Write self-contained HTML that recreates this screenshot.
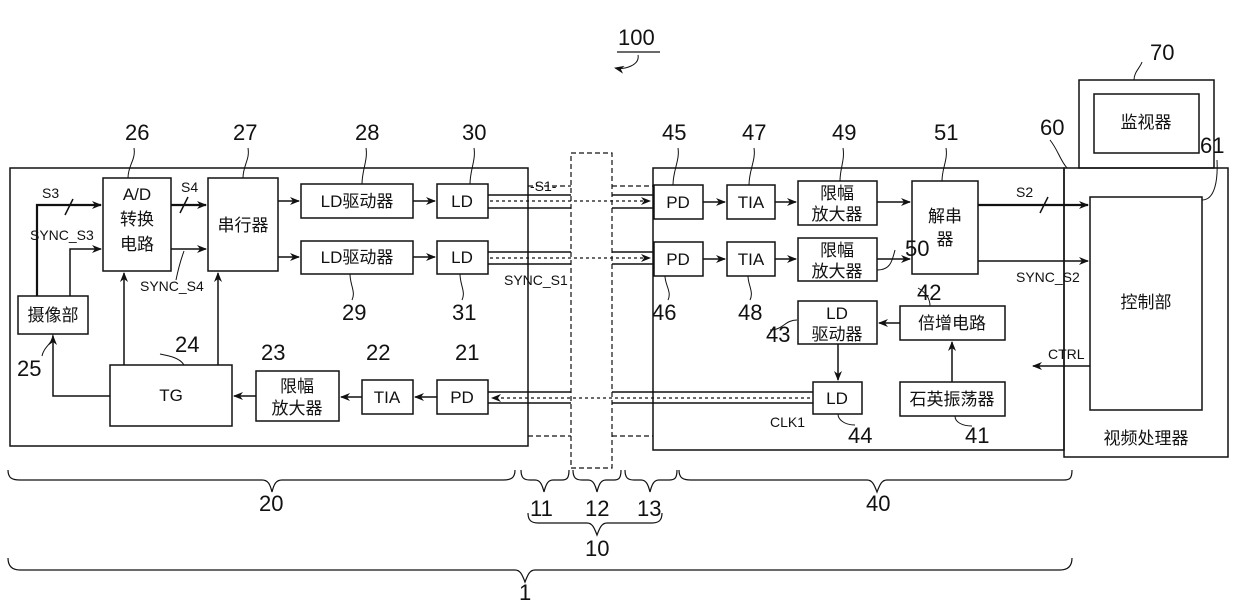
<!DOCTYPE html>
<html><head><meta charset="utf-8"><style>
body{margin:0;background:#fff}
text{font-family:"Liberation Sans","Noto Sans CJK SC",sans-serif;fill:#111}
.n{font-size:22px}
.c{font-size:17px}
.s{font-size:14px}
</style></head><body>
<svg width="1240" height="608" viewBox="0 0 1240 608" xmlns="http://www.w3.org/2000/svg">
<defs><marker id="a" markerWidth="10" markerHeight="8" refX="9" refY="4" orient="auto" markerUnits="userSpaceOnUse"><path d="M0,0 L10,4 L0,8 L3,4z" fill="#111"/></marker></defs>
<g fill="none" stroke="#111" stroke-width="1.5">
<rect x="10" y="168" width="518" height="278"/>
<rect x="653" y="168" width="411" height="282"/>
<rect x="1064" y="168" width="164" height="289"/>
<rect x="1090" y="197" width="112" height="213"/>
<rect x="1079" y="80" width="135" height="88"/>
<rect x="1094" y="94" width="105" height="59"/>
<g stroke-dasharray="5,3" stroke-width="1.2">
<rect x="571" y="153" width="41" height="315"/>
<line x1="528" y1="186" x2="571" y2="186"/><line x1="612" y1="186" x2="653" y2="186"/>
<line x1="528" y1="436" x2="571" y2="436"/><line x1="612" y1="436" x2="653" y2="436"/>
</g>
<rect x="103" y="178" width="68" height="93"/>
<rect x="208" y="178" width="70" height="93"/>
<rect x="301" y="184" width="112" height="34"/>
<rect x="437" y="184" width="51" height="34"/>
<rect x="301" y="241" width="112" height="33"/>
<rect x="437" y="241" width="51" height="33"/>
<rect x="18" y="296" width="70" height="38"/>
<rect x="110" y="365" width="122" height="61"/>
<rect x="256" y="371" width="83" height="50"/>
<rect x="362" y="380" width="51" height="34"/>
<rect x="437" y="380" width="51" height="34"/>
<rect x="654" y="185" width="49" height="34"/>
<rect x="727" y="185" width="48" height="34"/>
<rect x="798" y="181" width="79" height="44"/>
<rect x="912" y="181" width="66" height="93"/>
<rect x="654" y="242" width="49" height="34"/>
<rect x="727" y="242" width="48" height="34"/>
<rect x="798" y="238" width="79" height="43"/>
<rect x="798" y="301" width="79" height="43"/>
<rect x="900" y="306" width="105" height="34"/>
<rect x="813" y="382" width="49" height="32"/>
<rect x="900" y="382" width="105" height="34"/>
<path d="M488 195H571M488 208H571M612 195H654M612 208H654"/>
<path d="M488 252H571M488 264H571M612 252H654M612 264H654"/>
<path d="M488 392H571M488 403H571M612 392H813M612 403H813"/>
<g stroke-dasharray="3,3" stroke-width="1.2">
<path d="M490 201H650" marker-end="url(#a)"/>
<path d="M490 258H650" marker-end="url(#a)"/>
<path d="M810 398H492" marker-end="url(#a)"/>
</g>
<path d="M37 296V205H101" stroke-width="2.2" marker-end="url(#a)"/>
<path d="M70 296V249H101" marker-end="url(#a)"/>
<path d="M171 205H206" stroke-width="2.2" marker-end="url(#a)"/>
<path d="M171 249H206" marker-end="url(#a)"/>
<path d="M278 201H299" marker-end="url(#a)"/>
<path d="M278 257H299" marker-end="url(#a)"/>
<path d="M413 201H435" marker-end="url(#a)"/>
<path d="M413 257H435" marker-end="url(#a)"/>
<path d="M124 365V273" marker-end="url(#a)"/>
<path d="M218 365V273" marker-end="url(#a)"/>
<path d="M110 396H53V336" marker-end="url(#a)"/>
<path d="M256 396H234" marker-end="url(#a)"/>
<path d="M362 397H341" marker-end="url(#a)"/>
<path d="M437 397H415" marker-end="url(#a)"/>
<path d="M65 215L73 199M180 213L188 197"/>
<path d="M703 202H725" marker-end="url(#a)"/>
<path d="M775 202H796" marker-end="url(#a)"/>
<path d="M877 202H910" marker-end="url(#a)"/>
<path d="M703 259H725" marker-end="url(#a)"/>
<path d="M775 259H796" marker-end="url(#a)"/>
<path d="M877 259H910" marker-end="url(#a)"/>
<path d="M978 205H1088" stroke-width="2.2" marker-end="url(#a)"/>
<path d="M1040 213L1048 197"/>
<path d="M978 261H1088" marker-end="url(#a)"/>
<path d="M1090 366H1033" marker-end="url(#a)"/>
<path d="M900 323H879" marker-end="url(#a)"/>
<path d="M952 382V342" marker-end="url(#a)"/>
<path d="M838 344V380" marker-end="url(#a)"/>
<g stroke-width="1">
<path d="M128 178C128 165 136 160 134 148M243 178C243 165 250 160 248 148M362 184C362 170 368 160 366 148M470 184C470 170 476 160 474 148"/>
<path d="M673 185C673 170 680 160 678 148M749 185C749 170 756 160 754 148M840 181C840 168 845 160 843 148M942 181C942 168 948 160 946 148"/>
<path d="M1067 168C1060 160 1058 150 1050 140M1202 200C1215 200 1218 180 1217 160M1134 80C1134 72 1140 68 1142 62"/>
<path d="M184 251C180 262 178 270 176 280M350 274C350 285 356 292 352 300M460 274C460 285 466 292 462 300"/>
<path d="M665 276C665 285 672 292 668 300M748 276C748 285 754 292 750 300M877 270C890 270 892 262 895 250"/>
<path d="M797 320C785 320 783 330 770 330M930 306C930 298 925 292 918 288M838 414C838 420 845 425 855 425M955 416C955 422 962 426 972 426"/>
<path d="M184 365C180 358 170 356 160 354M53 334C53 344 44 346 42 356"/>
</g>
<path d="M617 52H660" stroke-width="1.2"/>
<path d="M638 55C640 65 625 70 615 68" stroke-width="1" marker-end="url(#a)"/>
<g stroke-width="1.2">
<path d="M8 470C8 478 12 480 20 480H262C268 480 270 484 272 492C274 484 276 480 282 480H503C511 480 515 478 515 470"/>
<path d="M521 470C521 478 524 480 530 480H535C540 480 542 484 544 492C546 484 548 480 553 480H562C567 480 569 478 569 470"/>
<path d="M573 470C573 478 576 480 582 480H588C593 480 595 484 597 492C599 484 601 480 606 480H614C619 480 621 478 621 470"/>
<path d="M625 470C625 478 628 480 634 480H641C646 480 648 484 650 492C652 484 654 480 659 480H669C675 480 677 478 677 470"/>
<path d="M679 470C679 478 683 480 691 480H867C872 480 874 484 877 492C880 484 882 480 887 480H1064C1070 480 1072 478 1072 470"/>
<path d="M528 513C528 520 531 523 538 523H587C592 523 594 527 597 535C600 527 602 523 607 523H652C659 523 662 520 662 513"/>
<path d="M8 558C8 566 12 570 20 570H515C520 570 522 574 525 582C528 574 530 570 535 570H1060C1068 570 1072 566 1072 558"/>
</g>
</g>
<g class="n">
<text x="618" y="45">100</text>
<text x="125" y="140">26</text><text x="233" y="140">27</text><text x="355" y="140">28</text><text x="462" y="140">30</text>
<text x="662" y="140">45</text><text x="742" y="140">47</text><text x="832" y="140">49</text><text x="934" y="140">51</text>
<text x="1040" y="135">60</text><text x="1200" y="153">61</text><text x="1150" y="60">70</text>
<text x="905" y="256">50</text><text x="917" y="300">42</text><text x="766" y="342">43</text>
<text x="342" y="320">29</text><text x="452" y="320">31</text><text x="652" y="320">46</text><text x="738" y="320">48</text>
<text x="175" y="352">24</text><text x="261" y="360">23</text><text x="366" y="360">22</text><text x="455" y="360">21</text>
<text x="17" y="376">25</text><text x="848" y="443">44</text><text x="965" y="443">41</text>
<text x="259" y="511">20</text><text x="530" y="516">11</text><text x="585" y="516">12</text><text x="637" y="516">13</text>
<text x="866" y="511">40</text><text x="585" y="556">10</text><text x="519" y="600">1</text>
</g>
<g class="s">
<text x="42" y="198">S3</text><text x="30" y="240">SYNC_S3</text><text x="181" y="192">S4</text><text x="140" y="291">SYNC_S4</text>
<text x="530" y="191">-S1-</text><text x="504" y="285">SYNC_S1</text><text x="1016" y="197">S2</text><text x="1016" y="282">SYNC_S2</text>
<text x="1048" y="359">CTRL</text><text x="770" y="427">CLK1</text>
</g>
<g class="c" text-anchor="middle">
<text x="137" y="200">A/D</text><text x="137" y="225">转换</text><text x="137" y="250">电路</text>
<text x="243" y="231">串行器</text>
<text x="357" y="207">LD驱动器</text><text x="462" y="207">LD</text>
<text x="357" y="263">LD驱动器</text><text x="462" y="263">LD</text>
<text x="53" y="321">摄像部</text><text x="171" y="401">TG</text>
<text x="297" y="392">限幅</text><text x="297" y="414">放大器</text>
<text x="387" y="403">TIA</text><text x="462" y="403">PD</text>
<text x="678" y="208">PD</text><text x="751" y="208">TIA</text>
<text x="837" y="199">限幅</text><text x="837" y="220">放大器</text>
<text x="678" y="265">PD</text><text x="751" y="265">TIA</text>
<text x="837" y="256">限幅</text><text x="837" y="277">放大器</text>
<text x="945" y="222">解串</text><text x="945" y="245">器</text>
<text x="837" y="319">LD</text><text x="837" y="340">驱动器</text>
<text x="952" y="329">倍增电路</text><text x="837" y="404">LD</text><text x="952" y="405">石英振荡器</text>
<text x="1146" y="308">控制部</text><text x="1146" y="128">监视器</text><text x="1146" y="444">视频处理器</text>
</g>
</svg>
</body></html>
